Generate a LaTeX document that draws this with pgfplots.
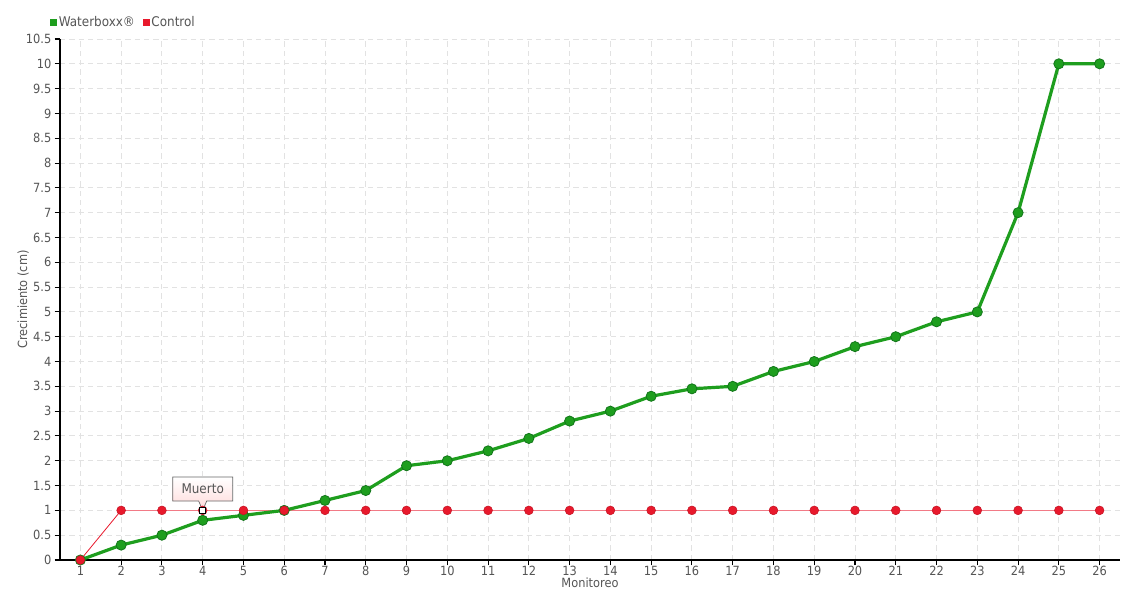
\documentclass[border=0pt]{standalone}
\usepackage{fontspec}
\setmainfont{DejaVu Sans Condensed}
\usepackage{pgfplots}
\pgfplotsset{compat=1.18}
\usetikzlibrary{shapes.callouts}
\definecolor{wgreen}{HTML}{1E9E1E}
\definecolor{wgreendark}{HTML}{12761A}
\definecolor{cred}{HTML}{E8192C}
\definecolor{cpink}{HTML}{F27A86}
\definecolor{txt}{HTML}{555555}
\definecolor{gridc}{HTML}{E2E2E2}
\begin{document}
\begin{tikzpicture}
\begin{axis}[
  at={(0,0)}, anchor=south west,
  scale only axis, width=795pt, height=390.75pt,
  xmin=0.5, xmax=26.5, ymin=0, ymax=10.5,
  xtick={1,...,26}, ytick={0,0.5,...,10.5},
  axis x line*=bottom, axis y line*=left,
  axis line style={-, black, line width=0.9pt},
  tick align=outside, major tick length=4pt,
  tick style={black, line width=0.8pt},
  grid=major,
  major grid style={gridc, dash pattern=on 4pt off 3pt, line width=0.7pt},
  /pgf/number format/assume math mode=true,
  ticklabel style={font=\fontsize{9.5}{11}\selectfont, text=txt},
  xticklabel style={yshift=3pt},
  yticklabel style={xshift=1pt},
  xlabel={Monitoreo}, ylabel={Crecimiento (cm)},
  label style={font=\fontsize{9.5}{11}\selectfont, text=txt},
  xlabel style={yshift=5pt},
  ylabel style={yshift=-9pt},
  legend style={at={(-0.0094,1.0325)}, anchor=west, draw=none, fill=none,
    font=\fontsize{10}{12}\selectfont, text=txt, legend columns=2,
    /tikz/every even column/.append style={column sep=4pt},
    inner sep=0pt},
  legend cell align=left,
  clip=false,
]
\addlegendimage{only marks, mark=square*, mark size=2.2pt, color=wgreen}
\addlegendentry{Waterboxx®}
\addlegendimage{only marks, mark=square*, mark size=2.2pt, color=cred}
\addlegendentry{Control}

% Control line
\addplot[forget plot, cred, line width=0.6pt, mark=none] coordinates {(1,0) (2,1)};
\addplot[forget plot, cpink, line width=1.2pt, mark=none] coordinates {
(2,1) (3,1) (4,1) (5,1) (6,1) (7,1) (8,1) (9,1) (10,1) (11,1) (12,1) (13,1) (14,1)
(15,1) (16,1) (17,1) (18,1) (19,1) (20,1) (21,1) (22,1) (23,1) (24,1) (25,1) (26,1)};

% Waterboxx
\addplot[forget plot, wgreen, line width=2.4pt, mark=*, mark size=3.8pt,
  mark options={fill=wgreen, draw=wgreendark, line width=0.6pt}] coordinates {
(1,0) (2,0.3) (3,0.5) (4,0.8) (5,0.9) (6,1.0) (7,1.2) (8,1.4) (9,1.9) (10,2.0)
(11,2.2) (12,2.45) (13,2.8) (14,3.0) (15,3.3) (16,3.45) (17,3.5) (18,3.8) (19,4.0)
(20,4.3) (21,4.5) (22,4.8) (23,5.0) (24,7.0) (25,10.0) (26,10.0)};

% Control markers
\addplot[forget plot, only marks, mark=*, mark size=3.3pt,
  mark options={fill=cred, draw=cred!85!black, line width=0.4pt}] coordinates {
(1,0) (2,1) (3,1) (4,1) (5,1) (6,1) (7,1) (8,1) (9,1) (10,1) (11,1) (12,1) (13,1) (14,1)
(15,1) (16,1) (17,1) (18,1) (19,1) (20,1) (21,1) (22,1) (23,1) (24,1) (25,1) (26,1)};

% Muerto marker
\addplot[forget plot, only marks, mark=square*, mark size=2.2pt,
  mark options={fill=white, draw=black, line width=0.8pt}] coordinates {(4,1)};

\node[rectangle callout, callout absolute pointer={(axis cs:4,1)},
  callout pointer width=6pt,
  draw=txt!90, line width=0.5pt, top color=white, bottom color=red!15,
  text=txt, font=\fontsize{10}{12}\selectfont,
  minimum width=45pt, minimum height=18pt, inner sep=2pt]
  at ([yshift=16pt]axis cs:4,1) {Muerto};
\end{axis}
\pgfresetboundingbox
\path (-45pt,-30pt) rectangle (810pt,420pt);
\end{tikzpicture}
\end{document}
